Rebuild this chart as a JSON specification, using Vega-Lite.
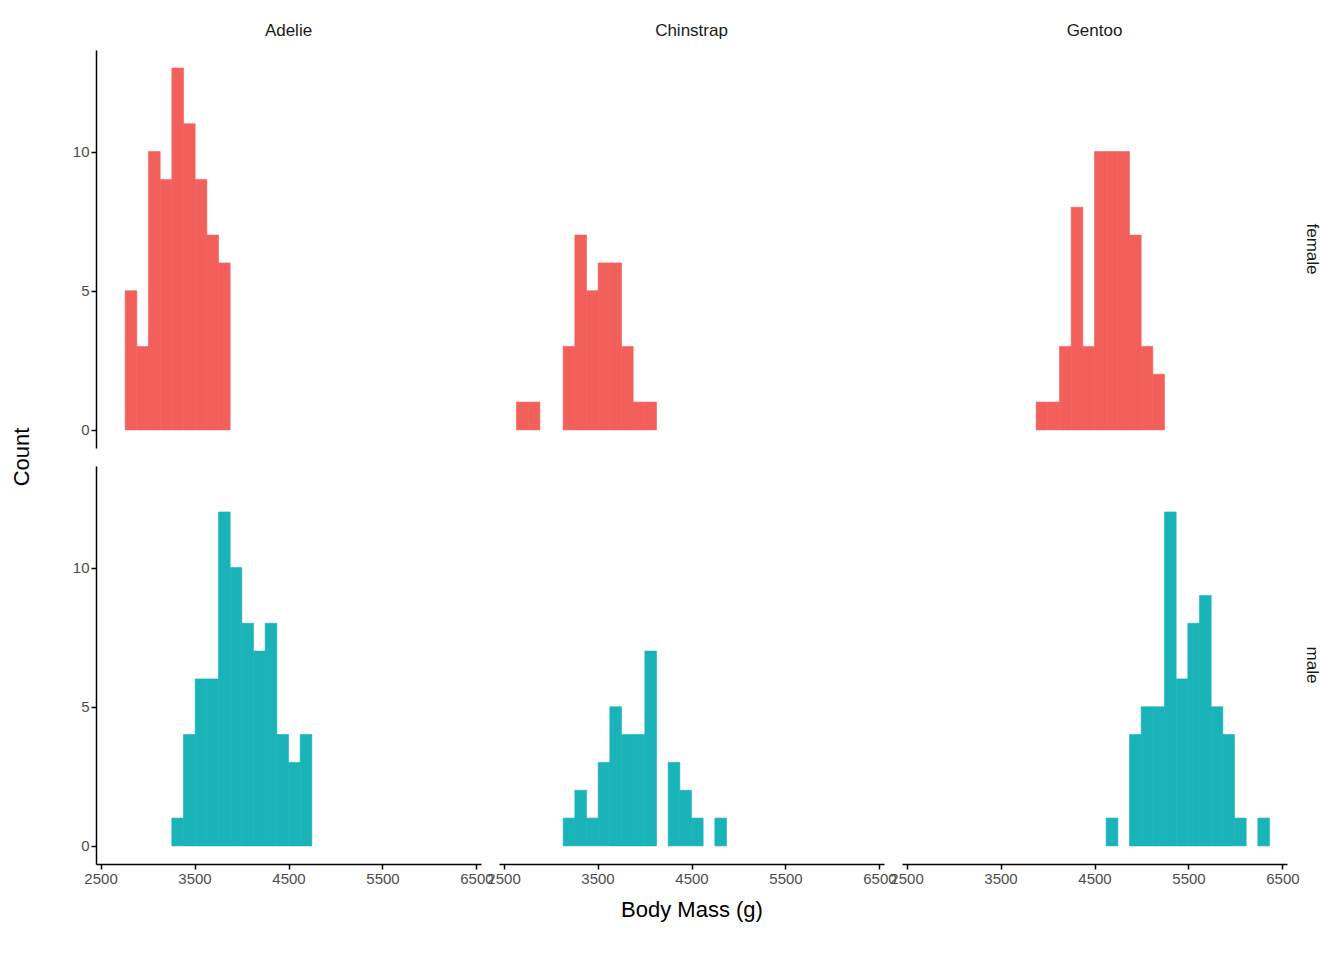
{
  "$schema": "https://vega.github.io/schema/vega-lite/v6.json",
  "background": "#ffffff",
  "padding": {"left": 10, "top": 22, "right": 14, "bottom": 5},
  "datasets": {
    "bins": [
      {"species": "Adelie", "sex": "female", "start": 2762.1, "end": 2886.2, "count": 5},
      {"species": "Adelie", "sex": "female", "start": 2886.2, "end": 3010.3, "count": 3},
      {"species": "Adelie", "sex": "female", "start": 3010.3, "end": 3134.5, "count": 10},
      {"species": "Adelie", "sex": "female", "start": 3134.5, "end": 3258.6, "count": 9},
      {"species": "Adelie", "sex": "female", "start": 3258.6, "end": 3382.8, "count": 13},
      {"species": "Adelie", "sex": "female", "start": 3382.8, "end": 3506.9, "count": 11},
      {"species": "Adelie", "sex": "female", "start": 3506.9, "end": 3631.0, "count": 9},
      {"species": "Adelie", "sex": "female", "start": 3631.0, "end": 3755.2, "count": 7},
      {"species": "Adelie", "sex": "female", "start": 3755.2, "end": 3879.3, "count": 6},
      {"species": "Adelie", "sex": "male", "start": 3258.6, "end": 3382.8, "count": 1},
      {"species": "Adelie", "sex": "male", "start": 3382.8, "end": 3506.9, "count": 4},
      {"species": "Adelie", "sex": "male", "start": 3506.9, "end": 3631.0, "count": 6},
      {"species": "Adelie", "sex": "male", "start": 3631.0, "end": 3755.2, "count": 6},
      {"species": "Adelie", "sex": "male", "start": 3755.2, "end": 3879.3, "count": 12},
      {"species": "Adelie", "sex": "male", "start": 3879.3, "end": 4003.4, "count": 10},
      {"species": "Adelie", "sex": "male", "start": 4003.4, "end": 4127.6, "count": 8},
      {"species": "Adelie", "sex": "male", "start": 4127.6, "end": 4251.7, "count": 7},
      {"species": "Adelie", "sex": "male", "start": 4251.7, "end": 4375.9, "count": 8},
      {"species": "Adelie", "sex": "male", "start": 4375.9, "end": 4500.0, "count": 4},
      {"species": "Adelie", "sex": "male", "start": 4500.0, "end": 4624.1, "count": 3},
      {"species": "Adelie", "sex": "male", "start": 4624.1, "end": 4748.3, "count": 4},
      {"species": "Chinstrap", "sex": "female", "start": 2637.9, "end": 2762.1, "count": 1},
      {"species": "Chinstrap", "sex": "female", "start": 2762.1, "end": 2886.2, "count": 1},
      {"species": "Chinstrap", "sex": "female", "start": 3134.5, "end": 3258.6, "count": 3},
      {"species": "Chinstrap", "sex": "female", "start": 3258.6, "end": 3382.8, "count": 7},
      {"species": "Chinstrap", "sex": "female", "start": 3382.8, "end": 3506.9, "count": 5},
      {"species": "Chinstrap", "sex": "female", "start": 3506.9, "end": 3631.0, "count": 6},
      {"species": "Chinstrap", "sex": "female", "start": 3631.0, "end": 3755.2, "count": 6},
      {"species": "Chinstrap", "sex": "female", "start": 3755.2, "end": 3879.3, "count": 3},
      {"species": "Chinstrap", "sex": "female", "start": 3879.3, "end": 4003.4, "count": 1},
      {"species": "Chinstrap", "sex": "female", "start": 4003.4, "end": 4127.6, "count": 1},
      {"species": "Chinstrap", "sex": "male", "start": 3134.5, "end": 3258.6, "count": 1},
      {"species": "Chinstrap", "sex": "male", "start": 3258.6, "end": 3382.8, "count": 2},
      {"species": "Chinstrap", "sex": "male", "start": 3382.8, "end": 3506.9, "count": 1},
      {"species": "Chinstrap", "sex": "male", "start": 3506.9, "end": 3631.0, "count": 3},
      {"species": "Chinstrap", "sex": "male", "start": 3631.0, "end": 3755.2, "count": 5},
      {"species": "Chinstrap", "sex": "male", "start": 3755.2, "end": 3879.3, "count": 4},
      {"species": "Chinstrap", "sex": "male", "start": 3879.3, "end": 4003.4, "count": 4},
      {"species": "Chinstrap", "sex": "male", "start": 4003.4, "end": 4127.6, "count": 7},
      {"species": "Chinstrap", "sex": "male", "start": 4251.7, "end": 4375.9, "count": 3},
      {"species": "Chinstrap", "sex": "male", "start": 4375.9, "end": 4500.0, "count": 2},
      {"species": "Chinstrap", "sex": "male", "start": 4500.0, "end": 4624.1, "count": 1},
      {"species": "Chinstrap", "sex": "male", "start": 4748.3, "end": 4872.4, "count": 1},
      {"species": "Gentoo", "sex": "female", "start": 3879.3, "end": 4003.4, "count": 1},
      {"species": "Gentoo", "sex": "female", "start": 4003.4, "end": 4127.6, "count": 1},
      {"species": "Gentoo", "sex": "female", "start": 4127.6, "end": 4251.7, "count": 3},
      {"species": "Gentoo", "sex": "female", "start": 4251.7, "end": 4375.9, "count": 8},
      {"species": "Gentoo", "sex": "female", "start": 4375.9, "end": 4500.0, "count": 3},
      {"species": "Gentoo", "sex": "female", "start": 4500.0, "end": 4624.1, "count": 10},
      {"species": "Gentoo", "sex": "female", "start": 4624.1, "end": 4748.3, "count": 10},
      {"species": "Gentoo", "sex": "female", "start": 4748.3, "end": 4872.4, "count": 10},
      {"species": "Gentoo", "sex": "female", "start": 4872.4, "end": 4996.6, "count": 7},
      {"species": "Gentoo", "sex": "female", "start": 4996.6, "end": 5120.7, "count": 3},
      {"species": "Gentoo", "sex": "female", "start": 5120.7, "end": 5244.8, "count": 2},
      {"species": "Gentoo", "sex": "male", "start": 4624.1, "end": 4748.3, "count": 1},
      {"species": "Gentoo", "sex": "male", "start": 4872.4, "end": 4996.6, "count": 4},
      {"species": "Gentoo", "sex": "male", "start": 4996.6, "end": 5120.7, "count": 5},
      {"species": "Gentoo", "sex": "male", "start": 5120.7, "end": 5244.8, "count": 5},
      {"species": "Gentoo", "sex": "male", "start": 5244.8, "end": 5369.0, "count": 12},
      {"species": "Gentoo", "sex": "male", "start": 5369.0, "end": 5493.1, "count": 6},
      {"species": "Gentoo", "sex": "male", "start": 5493.1, "end": 5617.2, "count": 8},
      {"species": "Gentoo", "sex": "male", "start": 5617.2, "end": 5741.4, "count": 9},
      {"species": "Gentoo", "sex": "male", "start": 5741.4, "end": 5865.5, "count": 5},
      {"species": "Gentoo", "sex": "male", "start": 5865.5, "end": 5989.7, "count": 4},
      {"species": "Gentoo", "sex": "male", "start": 5989.7, "end": 6113.8, "count": 1},
      {"species": "Gentoo", "sex": "male", "start": 6237.9, "end": 6362.1, "count": 1}
    ]
  },
  "data": {"name": "bins"},
  "facet": {
    "column": {
      "field": "species", "type": "nominal", "title": "Body Mass (g)",
      "header": {
        "labelOrient": "top", "labelFont": "Liberation Sans", "labelFontSize": 17, "labelColor": "#1a1a1a", "labelPadding": 10,
        "titleOrient": "bottom", "titleFont": "Liberation Sans", "titleFontSize": 22, "titleFontWeight": "normal", "titleColor": "#000000", "titlePadding": 4
      }
    },
    "row": {
      "field": "sex", "type": "nominal", "title": "Count",
      "header": {
        "labelOrient": "right", "labelAngle": 90, "labelFont": "Liberation Sans", "labelFontSize": 17, "labelColor": "#1a1a1a", "labelPadding": 16,
        "titleOrient": "left", "titleAngle": -90, "titleFont": "Liberation Sans", "titleFontSize": 22, "titleFontWeight": "normal", "titleColor": "#000000", "titlePadding": 6
      }
    }
  },
  "spacing": {"column": 18, "row": 18},
  "spec": {
    "width": 385,
    "height": 398,
    "mark": {"type": "rect", "strokeWidth": 0.6},
    "encoding": {
      "x": {
        "field": "start", "type": "quantitative", "title": null,
        "scale": {"domain": [2451.7, 6548.3], "nice": false, "zero": false},
        "axis": {"values": [2500, 3500, 4500, 5500, 6500], "format": "d"}
      },
      "x2": {"field": "end"},
      "y": {
        "field": "count", "type": "quantitative", "title": null,
        "scale": {"domain": [-0.65, 13.65], "nice": false, "zero": false},
        "axis": {"values": [0, 5, 10], "format": "d"}
      },
      "y2": {"datum": 0},
      "color": {
        "field": "sex", "type": "nominal", "legend": null,
        "scale": {"domain": ["female", "male"], "range": ["#F35F5B", "#19B3B8"]}
      },
      "stroke": {
        "field": "sex", "type": "nominal", "legend": null,
        "scale": {"domain": ["female", "male"], "range": ["#F35F5B", "#19B3B8"]}
      }
    }
  },
  "config": {
    "view": {"stroke": null},
    "axis": {
      "grid": false,
      "domainColor": "#000000",
      "domainWidth": 1.5,
      "tickColor": "#000000",
      "tickWidth": 1.5,
      "tickSize": 5,
      "labelFont": "Liberation Sans",
      "labelFontSize": 15,
      "labelColor": "#4d4d4d"
    }
  }
}
